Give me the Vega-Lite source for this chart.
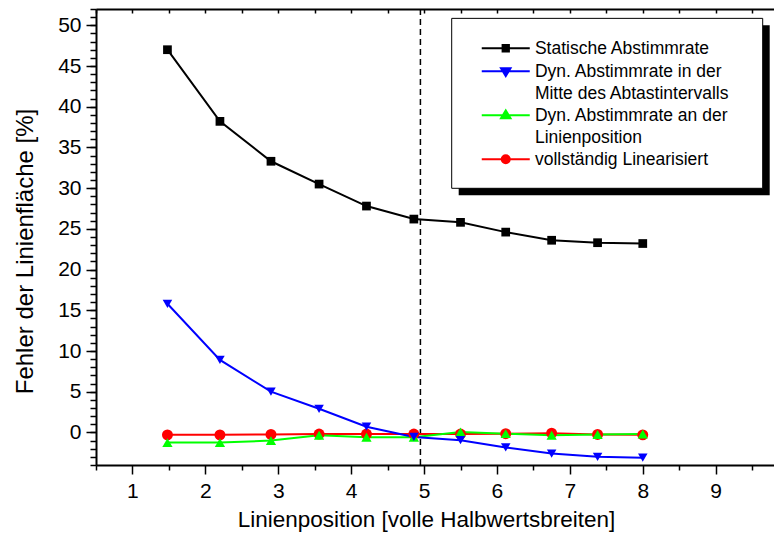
{
  "$schema": "https://vega.github.io/schema/vega-lite/v6.json",
  "width": 678,
  "height": 456,
  "autosize": {"type": "none"},
  "padding": {"left": 96, "top": 9, "right": 0, "bottom": 68},
  "background": "white",
  "config": {
    "font": "Liberation Sans",
    "view": {"stroke": null},
    "axis": {"grid": false, "domainColor": "black", "domainWidth": 2, "tickColor": "black", "tickWidth": 1.5, "labelColor": "black", "labelFont": "Liberation Sans", "labelFontSize": 21, "titleFont": "Liberation Sans", "titleFontSize": 22.5, "titleFontWeight": "normal", "titleColor": "black"},
    "legend": {"labelFont": "Liberation Sans", "labelFontSize": 17.5, "labelColor": "black"}
  },
  "data": {"values": [
    {"series": "Statische Abstimmrate", "x": 1.48, "y": 47.0},
    {"series": "Statische Abstimmrate", "x": 2.2, "y": 38.2},
    {"series": "Statische Abstimmrate", "x": 2.9, "y": 33.3},
    {"series": "Statische Abstimmrate", "x": 3.56, "y": 30.5},
    {"series": "Statische Abstimmrate", "x": 4.21, "y": 27.8},
    {"series": "Statische Abstimmrate", "x": 4.86, "y": 26.2},
    {"series": "Statische Abstimmrate", "x": 5.5, "y": 25.8},
    {"series": "Statische Abstimmrate", "x": 6.12, "y": 24.6},
    {"series": "Statische Abstimmrate", "x": 6.75, "y": 23.6},
    {"series": "Statische Abstimmrate", "x": 7.38, "y": 23.3},
    {"series": "Statische Abstimmrate", "x": 8.0, "y": 23.2},
    {"series": "vollständig Linearisiert", "x": 1.48, "y": -0.3},
    {"series": "vollständig Linearisiert", "x": 2.2, "y": -0.3},
    {"series": "vollständig Linearisiert", "x": 2.9, "y": -0.25},
    {"series": "vollständig Linearisiert", "x": 3.56, "y": -0.2},
    {"series": "vollständig Linearisiert", "x": 4.21, "y": -0.2},
    {"series": "vollständig Linearisiert", "x": 4.86, "y": -0.2},
    {"series": "vollständig Linearisiert", "x": 5.5, "y": -0.2},
    {"series": "vollständig Linearisiert", "x": 6.12, "y": -0.15},
    {"series": "vollständig Linearisiert", "x": 6.75, "y": -0.1},
    {"series": "vollständig Linearisiert", "x": 7.38, "y": -0.25},
    {"series": "vollständig Linearisiert", "x": 8.0, "y": -0.3},
    {"series": "Dyn. Abstimmrate an der\n Linienposition", "x": 1.48, "y": -1.25},
    {"series": "Dyn. Abstimmrate an der\n Linienposition", "x": 2.2, "y": -1.25},
    {"series": "Dyn. Abstimmrate an der\n Linienposition", "x": 2.9, "y": -1.0},
    {"series": "Dyn. Abstimmrate an der\n Linienposition", "x": 3.56, "y": -0.35},
    {"series": "Dyn. Abstimmrate an der\n Linienposition", "x": 4.21, "y": -0.6},
    {"series": "Dyn. Abstimmrate an der\n Linienposition", "x": 4.86, "y": -0.6},
    {"series": "Dyn. Abstimmrate an der\n Linienposition", "x": 5.5, "y": 0.05},
    {"series": "Dyn. Abstimmrate an der\n Linienposition", "x": 6.12, "y": -0.15},
    {"series": "Dyn. Abstimmrate an der\n Linienposition", "x": 6.75, "y": -0.35},
    {"series": "Dyn. Abstimmrate an der\n Linienposition", "x": 7.38, "y": -0.25},
    {"series": "Dyn. Abstimmrate an der\n Linienposition", "x": 8.0, "y": -0.2},
    {"series": "Dyn. Abstimmrate in der\nMitte des Abtastintervalls", "x": 1.48, "y": 15.8},
    {"series": "Dyn. Abstimmrate in der\nMitte des Abtastintervalls", "x": 2.2, "y": 8.9},
    {"series": "Dyn. Abstimmrate in der\nMitte des Abtastintervalls", "x": 2.9, "y": 5.0},
    {"series": "Dyn. Abstimmrate in der\nMitte des Abtastintervalls", "x": 3.56, "y": 2.9},
    {"series": "Dyn. Abstimmrate in der\nMitte des Abtastintervalls", "x": 4.21, "y": 0.7},
    {"series": "Dyn. Abstimmrate in der\nMitte des Abtastintervalls", "x": 4.86, "y": -0.55},
    {"series": "Dyn. Abstimmrate in der\nMitte des Abtastintervalls", "x": 5.5, "y": -0.95},
    {"series": "Dyn. Abstimmrate in der\nMitte des Abtastintervalls", "x": 6.12, "y": -1.85},
    {"series": "Dyn. Abstimmrate in der\nMitte des Abtastintervalls", "x": 6.75, "y": -2.6},
    {"series": "Dyn. Abstimmrate in der\nMitte des Abtastintervalls", "x": 7.38, "y": -3.0},
    {"series": "Dyn. Abstimmrate in der\nMitte des Abtastintervalls", "x": 8.0, "y": -3.1}
  ]},
  "layer": [
    {
      "data": {"values": [{}]},
      "mark": {"type": "rect", "color": "black"},
      "encoding": {
        "x": {"datum": 5.475, "type": "quantitative", "axis": null},
        "x2": {"datum": 9.741},
        "y": {"datum": 49.99, "type": "quantitative", "axis": null},
        "y2": {"datum": 29.12}
      }
    },
    {
      "data": {"values": [{}]},
      "mark": {"type": "rect", "fill": "white", "stroke": "black", "strokeWidth": 1},
      "encoding": {
        "x": {"datum": 5.379, "type": "quantitative", "axis": null},
        "x2": {"datum": 9.645},
        "y": {"datum": 50.85, "type": "quantitative", "axis": null},
        "y2": {"datum": 29.98}
      }
    },
    {
      "data": {"values": [{}]},
      "mark": {"type": "rule", "color": "black", "strokeWidth": 1.5, "strokeDash": [6, 4]},
      "encoding": {
        "x": {"datum": 4.95, "type": "quantitative", "axis": null}
      }
    },
    {
      "mark": {"type": "line", "strokeWidth": 2},
      "encoding": {
        "x": {"field": "x", "type": "quantitative", "scale": {"domain": [0.5, 9.8], "nice": false, "zero": false},
              "axis": {"orient": "bottom", "values": [1, 2, 3, 4, 5, 6, 7, 8, 9], "tickSize": 9, "labelPadding": 6, "title": "Linienposition [volle Halbwertsbreiten]", "titlePadding": 7, "titleX": 330}},
        "y": {"field": "y", "type": "quantitative", "scale": {"domain": [-4, 52], "nice": false, "zero": false},
              "axis": {"orient": "left", "values": [0, 5, 10, 15, 20, 25, 30, 35, 40, 45, 50], "tickSize": 10, "labelPadding": 5, "title": "Fehler der Linienfläche [%]", "titlePadding": 20, "titleY": 242, "titleFontSize": 24}},
        "color": {"field": "series", "type": "nominal",
                  "scale": {"domain": ["Statische Abstimmrate", "Dyn. Abstimmrate in der\nMitte des Abtastintervalls", "Dyn. Abstimmrate an der\n Linienposition", "vollständig Linearisiert"], "range": ["#000000", "#0000ff", "#00ff00", "#ff0000"]},
                  "legend": null}
      }
    },
    {
      "mark": {"type": "point", "filled": true, "opacity": 1},
      "encoding": {
        "x": {"field": "x", "type": "quantitative",
              "axis": {"orient": "bottom", "values": [0.5, 1.5, 2.5, 3.5, 4.5, 5.5, 6.5, 7.5, 8.5, 9.5], "tickSize": 5, "labels": false, "domain": false, "title": null}},
        "y": {"field": "y", "type": "quantitative",
              "axis": {"orient": "left", "values": [-4, -3, -2, -1, 0, 1, 2, 3, 4, 5, 6, 7, 8, 9, 10, 11, 12, 13, 14, 15, 16, 17, 18, 19, 20, 21, 22, 23, 24, 25, 26, 27, 28, 29, 30, 31, 32, 33, 34, 35, 36, 37, 38, 39, 40, 41, 42, 43, 44, 45, 46, 47, 48, 49, 50, 51, 52], "tickSize": 6, "labels": false, "domain": false, "title": null}},
        "color": {"field": "series", "type": "nominal", "legend": null},
        "shape": {"field": "series", "type": "nominal",
                  "scale": {"domain": ["Statische Abstimmrate", "Dyn. Abstimmrate in der\nMitte des Abtastintervalls", "Dyn. Abstimmrate an der\n Linienposition", "vollständig Linearisiert"], "range": ["square", "triangle-down", "triangle-up", "circle"]},
                  "legend": null},
        "size": {"field": "series", "type": "nominal",
                 "scale": {"domain": ["Statische Abstimmrate", "Dyn. Abstimmrate in der\nMitte des Abtastintervalls", "Dyn. Abstimmrate an der\n Linienposition", "vollständig Linearisiert"], "range": [76, 120, 120, 76]},
                 "legend": null}
      }
    },
    {
      "mark": {"type": "point", "filled": true, "opacity": 0, "strokeWidth": 2},
      "encoding": {
        "x": {"field": "x", "type": "quantitative",
              "axis": {"orient": "top", "values": [0.5, 1, 1.5, 2, 2.5, 3, 3.5, 4, 4.5, 5, 5.5, 6, 6.5, 7, 7.5, 8, 8.5, 9, 9.5], "tickSize": -4, "labels": false, "domain": true, "title": null}},
        "y": {"field": "y", "type": "quantitative", "axis": null},
        "fill": {"field": "series", "type": "nominal",
                 "scale": {"domain": ["Statische Abstimmrate", "Dyn. Abstimmrate in der\nMitte des Abtastintervalls", "Dyn. Abstimmrate an der\n Linienposition", "vollständig Linearisiert"], "range": ["#000000", "#0000ff", "#00ff00", "#ff0000"]},
                 "legend": {"orient": "none", "legendX": 385, "legendY": 30.5, "title": null, "padding": 0, "fillColor": null, "strokeColor": null, "zindex": 1,
                            "symbolSize": 100, "symbolStrokeWidth": 2, "symbolOpacity": 1, "symbolOffset": 16, "labelOffset": 20.4, "labelBaseline": "alphabetic", "labelLimit": 400, "rowPadding": 4,
                            "labelExpr": "split(datum.label, '\\n')",
                            "encode": {"labels": {"update": {"dy": {"value": 6}, "lineHeight": {"value": 21.5}}}, "symbols": {"update": {"strokeWidth": {"value": 2}}}}}},
        "stroke": {"field": "series", "type": "nominal",
                   "scale": {"domain": ["Statische Abstimmrate", "Dyn. Abstimmrate in der\nMitte des Abtastintervalls", "Dyn. Abstimmrate an der\n Linienposition", "vollständig Linearisiert"], "range": ["#000000", "#0000ff", "#00ff00", "#ff0000"]}},
        "shape": {"field": "series", "type": "nominal",
                  "scale": {"domain": ["Statische Abstimmrate", "Dyn. Abstimmrate in der\nMitte des Abtastintervalls", "Dyn. Abstimmrate an der\n Linienposition", "vollständig Linearisiert"],
                            "range": ["M-4.8,0H4.8M-0.63,-0.63H0.63V0.63H-0.63Z", "M-4.8,0H4.8M-0.95,-0.62L0.95,-0.62L0,0.95Z", "M-4.8,0H4.8M-0.95,0.62L0.95,0.62L0,-0.95Z", "M-4.8,0H4.8M0.8,0A0.8,0.8,0,1,1,-0.8,0A0.8,0.8,0,1,1,0.8,0Z"]}}
      }
    }
  ],
  "resolve": {
    "scale": {"shape": "independent", "fill": "independent", "stroke": "independent"},
    "axis": {"x": "independent", "y": "independent"}
  }
}
